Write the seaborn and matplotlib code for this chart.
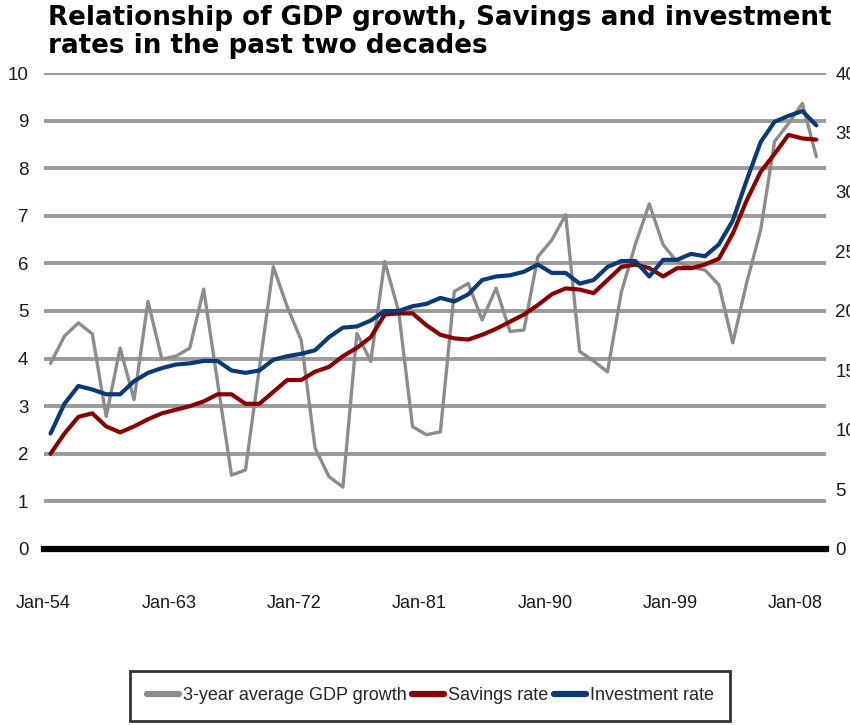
import matplotlib
matplotlib.use('Agg')
import matplotlib.pyplot as plt
import matplotlib.dates as mdates
import seaborn as sns
import pandas as pd

# Data (one point per year)
years = list(range(1954, 2010))

gdp_growth = [3.90, 4.47, 4.75, 4.52, 2.78, 4.22, 3.14, 5.20, 3.99, 4.05,
              4.22, 5.46, 3.50, 1.55, 1.66, 3.80, 5.93, 5.09, 4.39, 2.12,
              1.52, 1.30, 4.53, 3.94, 6.04, 5.00, 2.57, 2.40, 2.46, 5.41,
              5.58, 4.81, 5.48, 4.57, 4.60, 6.14, 6.49, 7.02, 4.15, 3.95,
              3.72, 5.40, 6.40, 7.25, 6.39, 6.03, 5.92, 5.86, 5.55, 4.33,
              5.60, 6.70, 8.56, 8.94, 9.36, 8.24]

savings_rate = [8.0, 9.7, 11.1, 11.4, 10.3, 9.8, 10.3, 10.9, 11.4, 11.7,
                12.0, 12.4, 13.0, 13.0, 12.2, 12.2, 13.2, 14.2, 14.2, 14.9,
                15.3, 16.2, 16.9, 17.8, 19.7, 19.8, 19.8, 18.8, 18.0, 17.7,
                17.6, 18.0, 18.5, 19.1, 19.7, 20.5, 21.4, 21.9, 21.8, 21.5,
                22.6, 23.7, 23.9, 23.6, 22.9, 23.6, 23.6, 23.9, 24.4, 26.5,
                29.3, 31.7, 33.2, 34.8, 34.5, 34.4]

investment_rate = [9.7, 12.2, 13.7, 13.4, 13.0, 13.0, 14.1, 14.8, 15.2, 15.5,
                   15.6, 15.8, 15.8, 15.0, 14.8, 15.0, 15.9, 16.2, 16.4, 16.7,
                   17.8, 18.6, 18.7, 19.2, 20.0, 20.0, 20.4, 20.6, 21.1, 20.8,
                   21.4, 22.6, 22.9, 23.0, 23.3, 23.9, 23.2, 23.2, 22.3, 22.6,
                   23.7, 24.2, 24.2, 22.9, 24.3, 24.3, 24.8, 24.6, 25.6, 27.6,
                   31.0, 34.2, 35.9, 36.4, 36.8, 35.6]

tick_years = [1954, 1963, 1972, 1981, 1990, 1999, 2008]
left_ticks = list(range(0, 11))
right_ticks = list(range(0, 41, 5))
labels = ['3-year average GDP growth', 'Savings rate', 'Investment rate']

df = pd.DataFrame({
    'date': pd.to_datetime([f'{y}-07-01' for y in years]),
    'gdp': gdp_growth,
    'savings': savings_rate,
    'investment': investment_rate,
})

sns.set_style('white')
plt.rcParams['font.family'] = ['Liberation Sans', 'DejaVu Sans']

fig = plt.figure(figsize=(8.5, 7.25), dpi=100)
ax = fig.add_axes([0.0513, 0.2428, 0.92, 0.6565])

# left axis: GDP growth
sns.lineplot(data=df, x='date', y='gdp', ax=ax, color='#8c8c8c',
             linewidth=2.4, label=labels[0])
ax.set_ylim(0, 10)
ax.set_yticks(left_ticks)
ax.yaxis.grid(True, color='#9a9a9a', linewidth=2.8)
ax.set_axisbelow(True)

# right axis: savings and investment rates
ax2 = ax.twinx()
sns.lineplot(data=df, x='date', y='savings', ax=ax2, color='#8b0000',
             linewidth=3, label=labels[1])
sns.lineplot(data=df, x='date', y='investment', ax=ax2, color='#0b3a78',
             linewidth=3, label=labels[2])
ax2.set_ylim(0, 40)
ax2.set_yticks(right_ticks)
ax2.grid(False)

ax.set_xlim(pd.Timestamp('1954-01-01'), pd.Timestamp('2010-03-01'))
ax.set_xticks(pd.to_datetime([f'{y}-01-01' for y in tick_years]))
ax.xaxis.set_major_formatter(mdates.DateFormatter('%b-%y'))

for a in (ax, ax2):
    a.set_xlabel('')
    a.set_ylabel('')
    for side in ('top', 'left', 'right', 'bottom'):
        a.spines[side].set_visible(False)
    if a.get_legend() is not None:
        a.get_legend().remove()

ax.spines['bottom'].set_visible(True)
ax.spines['bottom'].set_color('black')
ax.spines['bottom'].set_linewidth(4.5)

ax.tick_params(axis='y', length=0, pad=11, labelsize=13.5, labelcolor='#1a1a1a')
ax2.tick_params(axis='y', length=0, pad=7, labelsize=13.5, labelcolor='#1a1a1a')
ax.tick_params(axis='x', length=8, width=1.6, color='black', direction='out',
               pad=25, labelsize=13, labelcolor='#1a1a1a')

fig.text(0.056, 0.993,
         'Relationship of GDP growth, Savings and investment\nrates in the past two decades',
         fontsize=18.8, fontweight='bold', family='DejaVu Sans', color='black',
         va='top', ha='left', linespacing=1.08)

h1, l1 = ax.get_legend_handles_labels()
h2, l2 = ax2.get_legend_handles_labels()
leg = fig.legend(h1 + h2, l1 + l2, loc='center', bbox_to_anchor=(0.506, 0.04),
                 ncol=3, frameon=True, fancybox=False, edgecolor='black',
                 handlelength=1.8, handletextpad=0.2, columnspacing=0.3,
                 borderpad=0.9, fontsize=13)
leg.get_frame().set_linewidth(2)
for line in leg.get_lines():
    line.set_linewidth(4.5)
    line.set_solid_capstyle('round')

fig.savefig('out.png', dpi=100)
